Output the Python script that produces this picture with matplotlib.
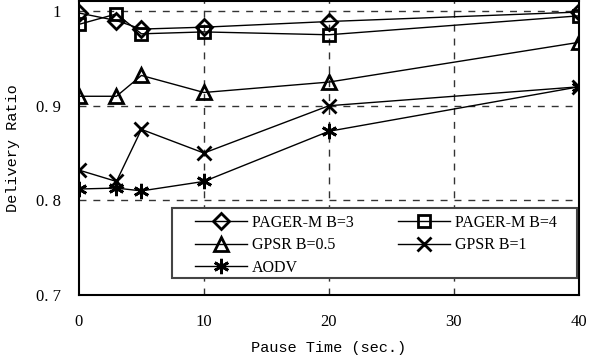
import matplotlib
matplotlib.use('Agg')
import matplotlib.pyplot as plt
from matplotlib.patches import Rectangle

pause = [0, 3, 5, 10, 20, 40]
pager_b3 = [0.998, 0.990, 0.981, 0.983, 0.989, 0.999]
pager_b4 = [0.986, 0.997, 0.976, 0.978, 0.975, 0.995]
gpsr_b05 = [0.910, 0.910, 0.932, 0.914, 0.925, 0.967]
gpsr_b1 = [0.832, 0.820, 0.875, 0.850, 0.900, 0.920]
aodv = [0.812, 0.813, 0.810, 0.820, 0.873, 0.920]

x_ticks = [0, 10, 20, 30, 40]
y_ticks = [0.7, 0.8, 0.9, 1.0]
y_labels = ['0. 7', '0. 8', '0. 9', '1']


def main():
	plt.rcParams['font.family'] = ['Liberation Serif', 'DejaVu Serif']
	fig = plt.figure(figsize=(5.98, 3.58), dpi=100)
	ax = fig.add_axes([0.132, 0.176, 0.836, 0.821])

	kw = dict(color='black', lw=1.0, mfc='none', mec='black', mew=2.0)
	h1, = ax.plot(pause, pager_b3, marker='D', ms=8, label='PAGER-M B=3', **kw)
	h2, = ax.plot(pause, pager_b4, marker='s', ms=9, label='PAGER-M B=4', **kw)
	h3, = ax.plot(pause, gpsr_b05, marker='^', ms=10, label='GPSR B=0.5', **kw)
	h4, = ax.plot(pause, gpsr_b1, marker='x', ms=10, label='GPSR B=1', **kw)
	h5, = ax.plot(pause, aodv, marker=(6, 2, 0), ms=11, label='AODV', **kw)

	ax.set_xlim(0, 40)
	ax.set_ylim(0.7, 1.0106)
	ax.set_xticks(x_ticks)
	ax.set_yticks(y_ticks)
	ax.set_yticklabels(y_labels)
	ax.tick_params(length=0, labelsize=12, pad=13)
	ax.tick_params(axis='x', pad=14)

	for xv in [10, 20, 30]:
		ax.axvline(xv, color='#333333', lw=1, ls=(0, (5, 5)), zorder=0)
	for yv in [0.8, 0.9, 1.0]:
		ax.axhline(yv, color='#333333', lw=1, ls=(0, (5, 5)), zorder=0)

	for s in ax.spines.values():
		s.set_linewidth(1.5)

	ax.set_xlabel('Pause Time (sec.)', fontsize=11, family='Liberation Mono')
	ax.set_ylabel('Delivery Ratio', fontsize=11, family='Liberation Mono')
	ax.yaxis.set_label_coords(-0.118, 0.5)
	ax.xaxis.set_label_coords(0.5, -0.155)

	# legend box (wider side padding than matplotlib's frame gives)
	box = Rectangle((0.186, 0.058), 0.81, 0.238, transform=ax.transAxes,
					facecolor='white', edgecolor='#444444', lw=1.5, zorder=4.9)
	ax.add_patch(box)

	# row-major order like the original legend
	handles = [h1, h3, h5, h2, h4]
	leg = ax.legend(handles, [h.get_label() for h in handles], ncol=2,
					loc='upper left', bbox_to_anchor=(0.232, 0.272),
					fontsize=11.5, frameon=False,
					handlelength=3.25, handletextpad=0.3, columnspacing=2.8,
					labelspacing=0.4, borderpad=0.0, borderaxespad=0.0)
	leg.set_zorder(5)

	fig.savefig('out.png', dpi=100)


if __name__ == '__main__':
	main()
